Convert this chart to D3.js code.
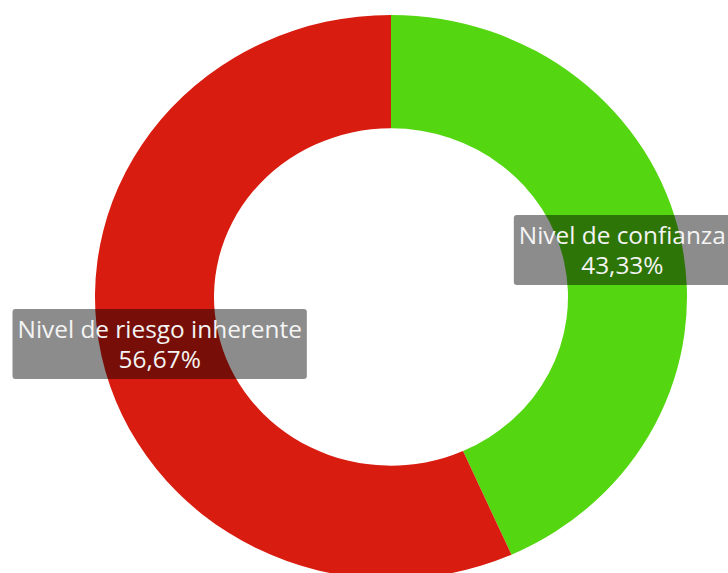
<!DOCTYPE html>
<html lang="es">
<head>
    <meta charset="UTF-8">
    <title>Nivel de riesgo</title>
    <script src="https://d3js.org/d3.v7.min.js"></script>
    <style>
        body { margin: 0; background: #fff; }
        .label-text { font-family: "Open Sans", sans-serif; font-size: 24.4px; fill: #f4f4f4; }
    </style>
</head>
<body>
    <div id="chart"></div>
    <script>
        // data
        const categories = ["Nivel de confianza", "Nivel de riesgo inherente"];
        const values = [43.33, 56.67];
        const colors = ["#54d610", "#d91c10"];

        const width = 728, height = 573;
        const cx = 391, cy = 297, squash = 0.953;
        const outerR = 296, innerR = 177;

        const svg = d3.select("#chart").append("svg")
            .attr("width", width)
            .attr("height", height);

        const data = categories.map((c, i) => ({ name: c, value: values[i], color: colors[i] }));

        const pie = d3.pie().value(d => d.value).sort(null);
        const arc = d3.arc().innerRadius(innerR).outerRadius(outerR);
        const arcs = pie(data);

        const g = svg.append("g")
            .attr("transform", `translate(${cx},${cy}) scale(1,${squash})`);

        g.selectAll("path")
            .data(arcs)
            .enter()
            .append("path")
            .attr("d", arc)
            .attr("fill", d => d.data.color);

        // labels at the arc centroids
        const fmt = v => v.toFixed(2).replace(".", ",") + "%";
        const labels = svg.append("g");

        arcs.forEach(a => {
            const [x, y] = arc.centroid(a);
            const lx = cx + x, ly = cy + y * squash;
            const lg = labels.append("g").attr("transform", `translate(${lx},${ly})`);
            const box = lg.append("rect")
                .attr("fill", "rgba(0,0,0,0.45)")
                .attr("rx", 3);
            const t1 = lg.append("text")
                .attr("class", "label-text")
                .attr("text-anchor", "middle")
                .attr("y", -6)
                .text(a.data.name);
            lg.append("text")
                .attr("class", "label-text")
                .attr("text-anchor", "middle")
                .attr("y", 24)
                .text(fmt(a.data.value));
            const w = t1.node().getComputedTextLength() + 10;
            box.attr("x", -w / 2).attr("y", -35).attr("width", w).attr("height", 70);
        });
    </script>
</body>
</html>
